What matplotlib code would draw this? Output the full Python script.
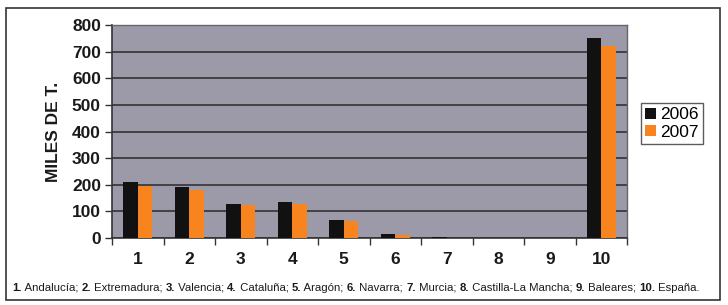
import matplotlib
matplotlib.use("Agg")
import matplotlib.pyplot as plt
import numpy as np
from matplotlib.patches import Rectangle

categories = ["1", "2", "3", "4", "5", "6", "7", "8", "9", "10"]
v2006 = [210, 190, 127, 135, 68, 15, 2, 1, 1, 752]
v2007 = [197, 182, 123, 128, 65, 12, 1, 1, 1, 720]
series_names = ["2006", "2007"]
yticks = [0, 100, 200, 300, 400, 500, 600, 700, 800]
footnote_parts = [("1.", " Andalucía; "), ("2.", " Extremadura; "), ("3.", " Valencia; "),
                  ("4.", " Cataluña; "), ("5.", " Aragón; "), ("6.", " Navarra; "),
                  ("7.", " Murcia; "), ("8.", " Castilla-La Mancha; "), ("9.", " Baleares; "),
                  ("10.", " España.")]

plt.rcParams['font.family'] = ['Liberation Sans', 'DejaVu Sans']
fig = plt.figure(figsize=(7.28, 3.05), dpi=100)
fig.patch.set_facecolor("white")

# outer frame
fig.add_artist(Rectangle((6/728, 1-300/305), 714/728, 292/305, transform=fig.transFigure,
                         fill=False, edgecolor="#333333", linewidth=1.2))

ax = fig.add_axes([112/728, 1-238/305, (627-112)/728, (238-25)/305])
ax.set_facecolor("#9c99a9")
x = np.arange(len(categories))
w = 0.28
ax.bar(x - w/2, v2006, w, color="#111111", label=series_names[0], zorder=3)
ax.bar(x + w/2, v2007, w, color="#f7841f", label=series_names[1], zorder=3)
ax.set_xlim(-0.5, len(categories) - 0.5)
ax.set_ylim(0, 800)
ax.set_yticks(yticks)
ax.set_yticklabels([str(t) for t in yticks], fontsize=12.5, fontweight="bold", color="#1a1a1a")
ax.set_xticks(x)
ax.set_xticklabels(categories, fontsize=12.5, fontweight="bold", color="#1a1a1a")
ax.tick_params(axis="x", length=0, pad=10)
ax.tick_params(axis="y", length=5, width=1, color="#333333", pad=3)
# x minor ticks between categories
ax.set_xticks(np.arange(-0.5, len(categories), 1.0), minor=True)
ax.tick_params(axis="x", which="minor", length=5, width=1, color="#333333")
ax.yaxis.grid(True, color="#2a2a2a", linewidth=1.1, zorder=1)
ax.set_axisbelow(True)
for s in ["top", "right"]:
    ax.spines[s].set_color("#666666")
    ax.spines[s].set_linewidth(1)
for s in ["left", "bottom"]:
    ax.spines[s].set_color("#333333")
    ax.spines[s].set_linewidth(1.2)
ax.set_ylabel("MILES DE T.", fontsize=12.5, fontweight="bold", color="#1a1a1a", labelpad=8)

leg = fig.legend(loc="upper left", bbox_to_anchor=(641/728, 1-103/305), fontsize=12.5,
                 frameon=True, fancybox=False, edgecolor="#333333", handlelength=0.6,
                 handleheight=0.6, handletextpad=0.25, borderpad=0.25, labelspacing=0.15,
                 borderaxespad=0)
leg.get_frame().set_linewidth(1)

# footnote
fx = 12/728
fy = 1-288/305
renderer = fig.canvas.get_renderer()
cur = fx
fam = ["Liberation Sans Narrow", "Liberation Sans"]
for num, txt in footnote_parts:
    t1 = fig.text(cur, fy, num, fontsize=8.2, fontweight="bold", color="#1a1a1a", va="center",
                  family=fam)
    bb = t1.get_window_extent(renderer)
    cur += bb.width / fig.bbox.width
    t2 = fig.text(cur, fy, txt, fontsize=8.2, color="#1a1a1a", va="center", family=fam)
    bb = t2.get_window_extent(renderer)
    cur += bb.width / fig.bbox.width

fig.savefig("out.png", dpi=100)
